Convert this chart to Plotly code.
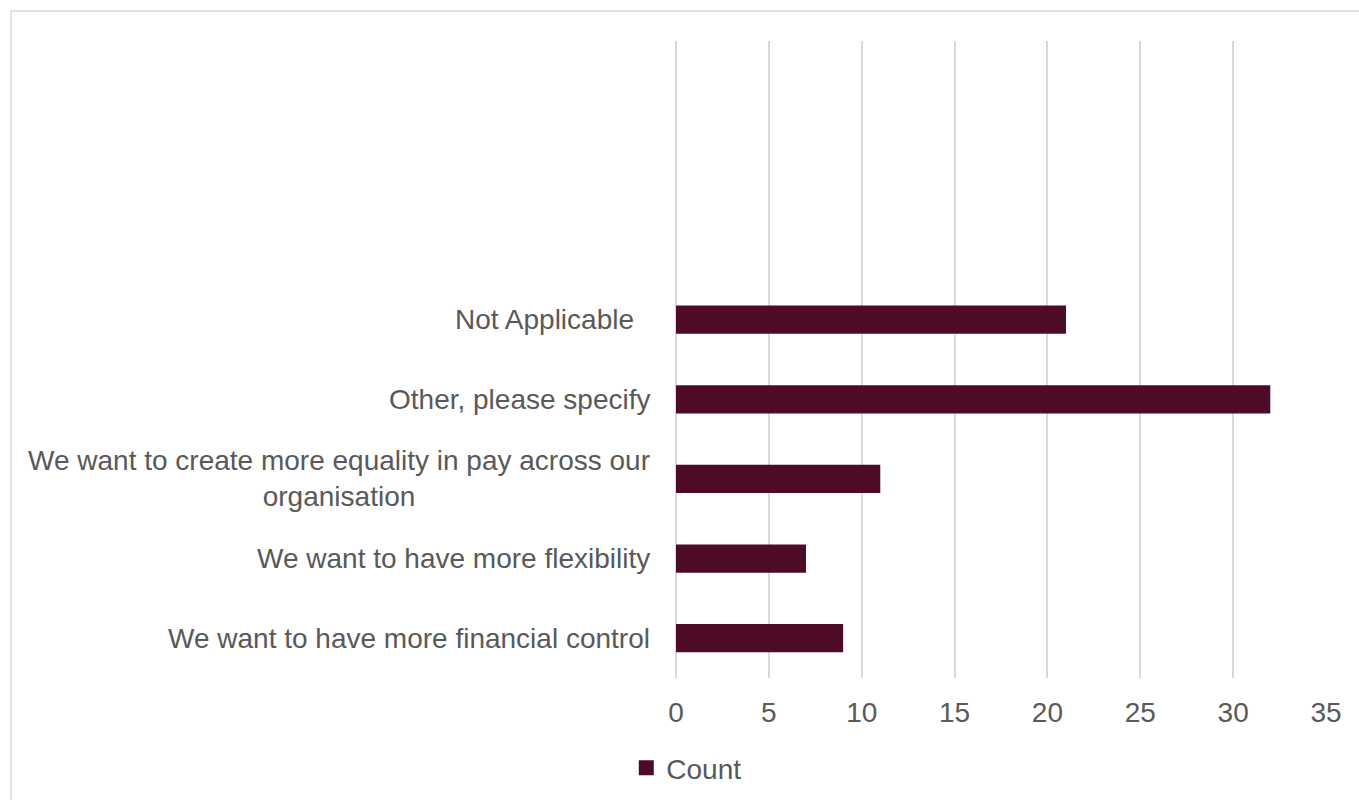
import plotly.graph_objects as go

# Survey responses, listed bottom to top
categories = [
    "We want to have more financial control",
    "We want to have more flexibility",
    "We want to create more equality in pay across our<br>organisation",
    "Other, please specify",
    "Not Applicable\u00a0\u00a0",
]
counts = [9, 7, 11, 32, 21]
x_ticks = [0, 5, 10, 15, 20, 25, 30, 35]
series_name = "Count"

W, H = 1359, 800
L, R, T, B = 676, 33, 41, 122
FONT = "Arial, 'Liberation Sans', sans-serif"
GREY = "#595959"
GRID = "#D9D9D9"
BAR = "#4E0B28"
FS = 28

fig = go.Figure()
fig.add_trace(
    go.Bar(
        x=counts,
        y=categories,
        orientation="h",
        name=series_name,
        marker=dict(color=BAR, line=dict(width=0)),
        showlegend=False,
    )
)
# legend entry drawn with a larger square swatch
fig.add_trace(
    go.Scatter(
        x=[None], y=[None], mode="markers", name=series_name,
        marker=dict(symbol="square", size=15, color=BAR),
        showlegend=True, hoverinfo="skip",
    )
)

# category labels as centred multi-line annotations left of the axis
annotations = [
    dict(
        x=0, xref="paper", y=c, yref="y",
        text=c, showarrow=False, xanchor="right", yanchor="middle",
        align="center", xshift=-24,
        font=dict(family=FONT, size=FS, color=GREY),
    )
    for c in categories
]

pw, ph = W - L - R, H - T - B
fx = lambda px: (px - L) / pw
fy = lambda py: (H - B - py) / ph

fig.update_layout(
    width=W, height=H,
    margin=dict(l=L, r=R, t=T, b=B),
    paper_bgcolor="white", plot_bgcolor="white",
    bargap=0.645,
    font=dict(family=FONT, size=FS, color=GREY),
    xaxis=dict(
        range=[0, 35], tickvals=x_ticks, showgrid=True, gridcolor=GRID,
        gridwidth=1.5, zeroline=True, zerolinecolor=GRID, zerolinewidth=1.5,
        showline=False, ticks="", ticklabelstandoff=15,
        tickfont=dict(family=FONT, size=FS, color=GREY), fixedrange=True,
    ),
    yaxis=dict(
        type="category", categoryorder="array", categoryarray=categories,
        range=[-0.5, 7.5], showticklabels=False, showgrid=False,
        zeroline=False, showline=False, ticks="",
    ),
    legend=dict(
        orientation="h", xref="container", yref="container",
        x=0.505, y=0.04, xanchor="center", yanchor="middle",
        font=dict(family=FONT, size=FS, color=GREY),
        itemwidth=30,
    ),
    annotations=annotations,
    shapes=[
        dict(
            type="rect", xref="paper", yref="paper",
            x0=fx(11), x1=fx(W + 20), y0=fy(H + 20), y1=fy(11),
            line=dict(color=GRID, width=1.5), fillcolor="rgba(0,0,0,0)",
            layer="below",
        )
    ],
)

fig.write_html("out.html")
